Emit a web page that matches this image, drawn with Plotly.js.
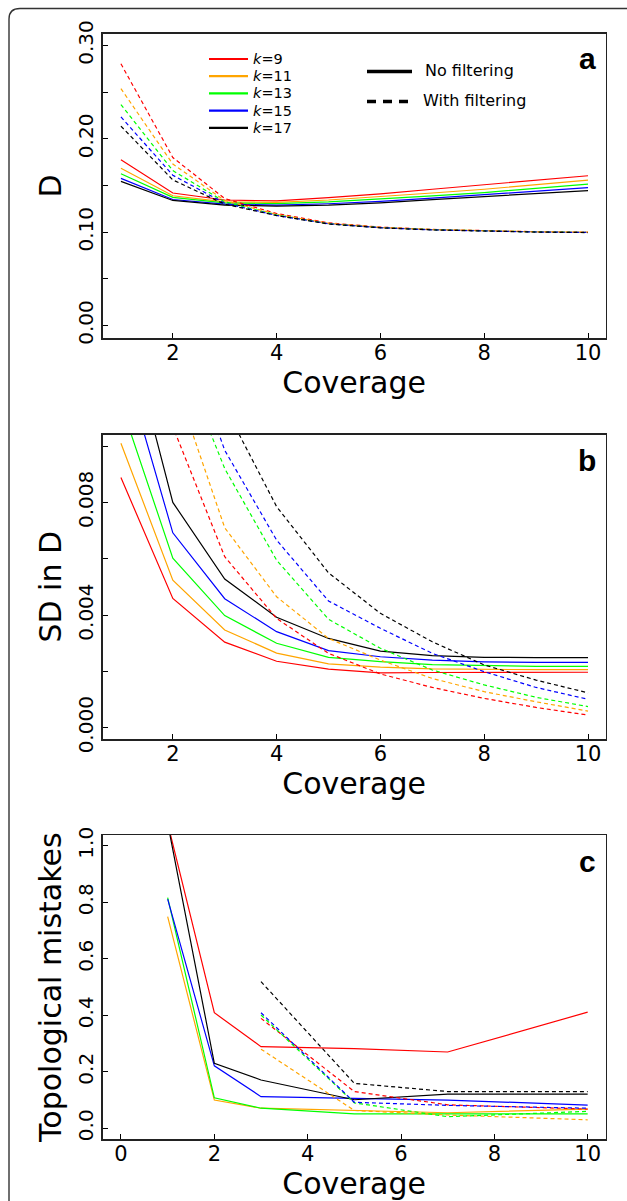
<!DOCTYPE html>
<html>
<head>
<meta charset="utf-8">
<script src="https://cdn.plot.ly/plotly-3.0.1.min.js"></script>
<style>html,body{margin:0;padding:0;background:#fff;}#chart{width:627px;height:1201px;}</style>
</head>
<body>
<div id="chart"></div>
<script>
// ---------------- DATA ----------------
const coverage = [1, 2, 3, 4, 5, 6, 7, 8, 9, 10];
const kLabels = ['9', '11', '13', '15', '17'];
const kColors = ['#ff0000', '#ffa500', '#00ff00', '#0000ff', '#000000'];

// Panel a: D
const dNoFilt_k9  = [0.1775, 0.142, 0.1345, 0.1335, 0.137, 0.141, 0.146, 0.151, 0.156, 0.1605];
const dNoFilt_k11 = [0.1686, 0.139, 0.1325, 0.132, 0.1345, 0.138, 0.142, 0.146, 0.151, 0.1558];
const dNoFilt_k13 = [0.1626, 0.1374, 0.1315, 0.1306, 0.1325, 0.1355, 0.139, 0.1425, 0.147, 0.1516];
const dNoFilt_k15 = [0.1576, 0.135, 0.130, 0.129, 0.1305, 0.133, 0.1365, 0.140, 0.144, 0.1477];
const dNoFilt_k17 = [0.1544, 0.134, 0.129, 0.128, 0.129, 0.1315, 0.135, 0.138, 0.141, 0.1445];
const dFilt_k9  = [0.2804, 0.180, 0.136, 0.120, 0.110, 0.1055, 0.103, 0.1015, 0.1005, 0.100];
const dFilt_k11 = [0.2538, 0.173, 0.134, 0.119, 0.1095, 0.105, 0.1028, 0.1013, 0.1004, 0.100];
const dFilt_k13 = [0.2368, 0.166, 0.1325, 0.1185, 0.109, 0.105, 0.1027, 0.1012, 0.1003, 0.0998];
const dFilt_k15 = [0.2236, 0.161, 0.131, 0.118, 0.109, 0.1048, 0.1025, 0.101, 0.1002, 0.0997];
const dFilt_k17 = [0.2137, 0.156, 0.130, 0.1178, 0.1088, 0.1046, 0.1024, 0.101, 0.1001, 0.0996];
const dTickVals = [0, 0.05, 0.10, 0.15, 0.20, 0.25, 0.30];
const dTickText = ['0.00', '', '0.10', '', '0.20', '', '0.30'];

// Panel b: SD in D
const sdNoFilt_k9  = [0.00888, 0.00459, 0.00304, 0.00236, 0.00208, 0.00195, 0.00196, 0.00197, 0.00197, 0.00197];
const sdNoFilt_k11 = [0.0101, 0.00524, 0.00347, 0.00265, 0.00227, 0.00215, 0.00209, 0.00207, 0.00206, 0.00206];
const sdNoFilt_k13 = [0.0115, 0.00602, 0.00398, 0.0030, 0.00250, 0.00235, 0.00224, 0.00220, 0.00218, 0.00218];
const sdNoFilt_k15 = [0.0133, 0.00692, 0.00458, 0.00341, 0.00274, 0.00252, 0.00240, 0.00234, 0.00232, 0.00232];
const sdNoFilt_k17 = [0.0151, 0.0080, 0.00528, 0.00392, 0.00317, 0.00272, 0.00256, 0.00250, 0.00249, 0.00249];
const sdFilt_k9  = [0.0190, 0.01069, 0.00607, 0.00388, 0.00264, 0.00191, 0.00143, 0.00104, 0.00072, 0.00045];
const sdFilt_k11 = [0.0220, 0.0125, 0.0071, 0.00465, 0.00317, 0.00240, 0.00175, 0.00128, 0.00092, 0.00059];
const sdFilt_k13 = [0.0240, 0.0138, 0.0092, 0.00595, 0.00385, 0.00282, 0.00205, 0.00152, 0.00108, 0.00075];
const sdFilt_k15 = [0.0260, 0.0150, 0.00985, 0.00666, 0.0045, 0.00353, 0.00264, 0.00199, 0.00143, 0.00101];
const sdFilt_k17 = [0.0300, 0.0170, 0.0114, 0.00785, 0.0055, 0.00406, 0.00305, 0.00223, 0.00169, 0.00124];
const sdTickVals = [0, 0.002, 0.004, 0.006, 0.008, 0.010];
const sdTickText = ['0.000', '', '0.004', '', '0.008', ''];

// Panel c: Topological mistakes
const coverageTopoNoFilt = [1, 2, 3, 5, 7, 10];
const coverageTopoFilt = [3, 5, 7, 10];
const topoNoFilt_k9  = [1.08, 0.409, 0.289, 0.282, 0.270, 0.411];
const topoNoFilt_k11 = [0.749, 0.100, 0.071, 0.062, 0.055, 0.068];
const topoNoFilt_k13 = [0.816, 0.108, 0.071, 0.051, 0.051, 0.051];
const topoNoFilt_k15 = [0.811, 0.221, 0.112, 0.105, 0.100, 0.082];
const topoNoFilt_k17 = [1.08, 0.230, 0.171, 0.101, 0.121, 0.121];
const topoFilt_k9  = [0.389, 0.130, 0.083, 0.068];
const topoFilt_k11 = [0.280, 0.063, 0.047, 0.030];
const topoFilt_k13 = [0.401, 0.090, 0.041, 0.060];
const topoFilt_k15 = [0.409, 0.092, 0.081, 0.071];
const topoFilt_k17 = [0.519, 0.159, 0.130, 0.130];
const topoTickVals = [0, 0.2, 0.4, 0.6, 0.8, 1.0];
const topoTickText = ['0.0', '0.2', '0.4', '0.6', '0.8', '1.0'];

const xTickValsAB = [2, 4, 6, 8, 10];
const xTickValsC = [0, 2, 4, 6, 8, 10];
const filterLabels = ['No filtering', 'With filtering'];
const panelLabels = ['a', 'b', 'c'];
const xTitle = 'Coverage';
const yTitles = ['D', 'SD in D', 'Topological mistakes'];

// ---------------- BUILD ----------------
const W = 627, H = 1201;
const px = v => v / W;
const py = v => 1 - v / H;
const FONT = 'DejaVu Sans, Verdana, sans-serif';
const DASH = '4px,3px';

const panels = [
  { xa: 'x', ya: 'y', x: [coverage, coverage], noF: [dNoFilt_k9, dNoFilt_k11, dNoFilt_k13, dNoFilt_k15, dNoFilt_k17],
    F: [dFilt_k9, dFilt_k11, dFilt_k13, dFilt_k15, dFilt_k17] },
  { xa: 'x2', ya: 'y2', x: [coverage, coverage], noF: [sdNoFilt_k9, sdNoFilt_k11, sdNoFilt_k13, sdNoFilt_k15, sdNoFilt_k17],
    F: [sdFilt_k9, sdFilt_k11, sdFilt_k13, sdFilt_k15, sdFilt_k17] },
  { xa: 'x3', ya: 'y3', x: [coverageTopoNoFilt, coverageTopoFilt], noF: [topoNoFilt_k9, topoNoFilt_k11, topoNoFilt_k13, topoNoFilt_k15, topoNoFilt_k17],
    F: [topoFilt_k9, topoFilt_k11, topoFilt_k13, topoFilt_k15, topoFilt_k17] }
];

const traces = [];
panels.forEach(p => {
  p.noF.forEach((ys, i) => traces.push({
    type: 'scatter', mode: 'lines', x: p.x[0], y: ys, xaxis: p.xa, yaxis: p.ya,
    name: 'k=' + kLabels[i] + ' ' + filterLabels[0],
    line: { color: kColors[i], width: 1.2 }, hoverinfo: 'skip'
  }));
  p.F.forEach((ys, i) => traces.push({
    type: 'scatter', mode: 'lines', x: p.x[1], y: ys, xaxis: p.xa, yaxis: p.ya,
    name: 'k=' + kLabels[i] + ' ' + filterLabels[1],
    line: { color: kColors[i], width: 1.2, dash: DASH }, hoverinfo: 'skip'
  }));
});

const xDom = [px(102.7), px(605.5)];
function xAxis(anchor, range, tickvals) {
  return {
    domain: xDom, anchor: anchor, range: range, tickvals: tickvals,
    ticks: 'inside', ticklen: 5, tickwidth: 1, tickcolor: '#000',
    showline: true, mirror: true, linecolor: '#222', linewidth: 1.5,
    showgrid: false, zeroline: false, automargin: false,
    ticklabelstandoff: -5,
    tickfont: { family: FONT, size: 21, color: '#000' },
    title: { text: xTitle, font: { family: FONT, size: 30, color: '#000' }, standoff: 3 }
  };
}
function yAxis(anchor, dom, range, tickvals, ticktext, title) {
  return {
    domain: dom, anchor: anchor, range: range, tickvals: tickvals, ticktext: ticktext,
    tickangle: -90,
    ticks: 'inside', ticklen: 5, tickwidth: 1, tickcolor: '#000',
    showline: true, mirror: true, linecolor: '#222', linewidth: 1.5,
    showgrid: false, zeroline: false, automargin: false,
    tickfont: { family: FONT, size: 20, color: '#000' },
    title: { text: title, font: { family: FONT, size: 30, color: '#000' }, standoff: 3 }
  };
}

const shapes = [];
const annotations = [];

// Outer rounded frame
shapes.push({
  type: 'path', xref: 'paper', yref: 'paper',
  path: 'M ' + px(9) + ' ' + py(1215) + ' L ' + px(9) + ' ' + py(19) +
        ' Q ' + px(9) + ' ' + py(8.5) + ' ' + px(20) + ' ' + py(8.5) + ' L ' + px(640) + ' ' + py(8.5),
  line: { color: '#333', width: 1.4 }
});

// k legend
const kRowsY = [59, 76.2, 93.4, 110.6, 127.8];
kLabels.forEach((k, i) => {
  shapes.push({ type: 'line', xref: 'paper', yref: 'paper', x0: px(209), x1: px(248), y0: py(kRowsY[i]), y1: py(kRowsY[i]),
    line: { color: kColors[i], width: 2.2 } });
  annotations.push({ xref: 'paper', yref: 'paper', x: px(252), y: py(kRowsY[i]), xanchor: 'left', yanchor: 'middle',
    borderpad: 0,
    text: '<i>k</i>=' + k, showarrow: false, font: { family: FONT, size: 14.5, color: '#000' } });
});
// filtering legend
shapes.push({ type: 'line', xref: 'paper', yref: 'paper', x0: px(367), x1: px(412), y0: py(71.5), y1: py(71.5),
  line: { color: '#000', width: 3.5 } });
shapes.push({ type: 'line', xref: 'paper', yref: 'paper', x0: px(367), x1: px(412), y0: py(101.5), y1: py(101.5),
  line: { color: '#000', width: 3.5, dash: '9px,7px' } });
annotations.push({ xref: 'paper', yref: 'paper', x: px(423), y: py(70.5), xanchor: 'left', yanchor: 'middle',
  text: filterLabels[0], showarrow: false, font: { family: FONT, size: 16, color: '#000' } });
annotations.push({ xref: 'paper', yref: 'paper', x: px(421), y: py(100.5), xanchor: 'left', yanchor: 'middle',
  text: filterLabels[1], showarrow: false, font: { family: FONT, size: 16, color: '#000' } });

// panel letters
const letterY = [58, 460, 861];
panelLabels.forEach((t, i) => annotations.push({
  xref: 'paper', yref: 'paper', x: px(598), y: py(letterY[i]), xanchor: 'right', yanchor: 'middle',
  text: '<b>' + t + '</b>', showarrow: false, font: { family: 'Liberation Sans, Arial, sans-serif', size: 30, color: '#000' }
}));

const layout = {
  width: W, height: H,
  margin: { l: 0, r: 0, t: 0, b: 0 },
  paper_bgcolor: '#fff', plot_bgcolor: '#fff',
  showlegend: false,
  font: { family: FONT, color: '#000' },
  xaxis: xAxis('y', [0.649, 10.337], xTickValsAB),
  yaxis: yAxis('x', [py(338.3), py(33.5)], [-0.0137, 0.3129], dTickVals, dTickText, yTitles[0]),
  xaxis2: xAxis('y2', [0.649, 10.337], xTickValsAB),
  yaxis2: yAxis('x2', [py(739), py(434.5)], [-0.0004, 0.01041], sdTickVals, sdTickText, yTitles[1]),
  xaxis3: xAxis('y3', [-0.392, 10.382], xTickValsC),
  yaxis3: yAxis('x3', [py(1139.3), py(835)], [-0.039, 1.038], topoTickVals, topoTickText, yTitles[2]),
  shapes: shapes,
  annotations: annotations
};

Plotly.newPlot('chart', traces, layout, { displayModeBar: false, staticPlot: true });
</script>
</body>
</html>
